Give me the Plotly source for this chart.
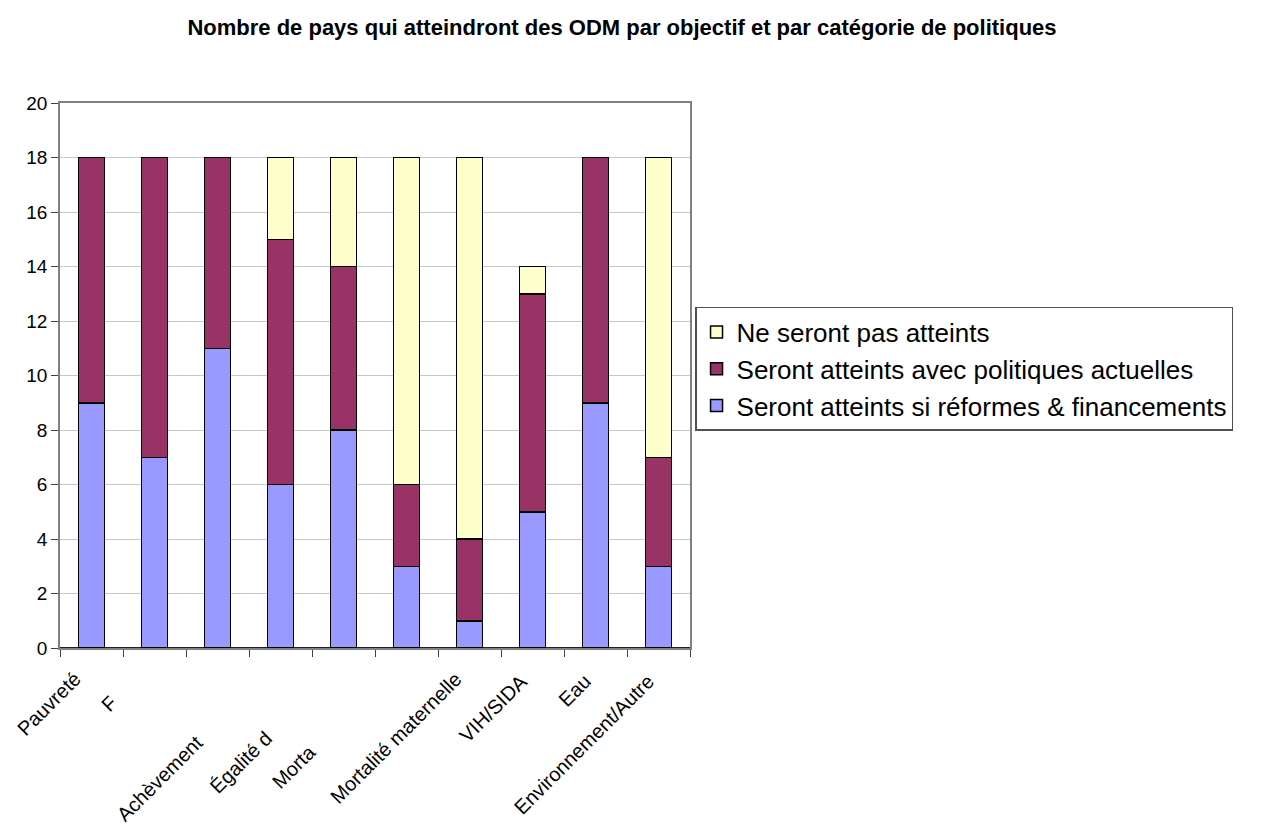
import numpy as np
import plotly.graph_objects as go

# Number of countries per goal, split by policy outcome
reformes = [9, 7, 11, 6, 8, 3, 1, 5, 9, 3]
actuelles = [9, 11, 7, 9, 6, 3, 3, 8, 9, 4]
non_atteints = [0, 0, 0, 3, 4, 12, 14, 1, 0, 11]

# Category labels as they appear under each bar ("" = no label shown)
labels = ["Pauvreté", "F", "Achèvement", "Égalité d", "Morta", "",
          "Mortalité maternelle", "VIH/SIDA", "Eau", "Environnement/Autre"]
# Pixel shifts of each label's top-right corner from its bar centre / axis
label_dx = [-4, -31, -7, -1, -21, 0, -1, 2, 3, 3]
label_dy = [-17, -41, -80, -76, -90, 0, -17, -19, -19, -19]

series = [
    ("Seront atteints si réformes & financements", reformes, "#9999FF", 3),
    ("Seront atteints avec politiques actuelles", actuelles, "#993366", 2),
    ("Ne seront pas atteints", non_atteints, "#FFFFCC", 1),
]

x = np.arange(len(reformes))
FONT = "Liberation Sans, Arial, sans-serif"

fig = go.Figure()
for i, (name, vals, color, rank) in enumerate(series):
    fig.add_trace(go.Bar(
        x=x, y=vals, name=name, width=0.42,
        marker=dict(color=color, line=dict(color="black", width=1.5)),
        legendgroup=f"g{i}", legendrank=rank,
    ))

annotations = []
for i, (txt, dx, dy) in enumerate(zip(labels, label_dx, label_dy)):
    if not txt:
        continue
    annotations.append(dict(
        text=txt, x=i, y=0, xref="x", yref="paper",
        xanchor="right", yanchor="top", textangle=-45,
        xshift=dx, yshift=dy, showarrow=False,
        font=dict(family=FONT, size=20, color="black"),
    ))

fig.update_layout(
    width=1265, height=825,
    barmode="stack",
    paper_bgcolor="white", plot_bgcolor="white",
    margin=dict(l=60, r=575, t=103, b=177),
    title=dict(
        text="<b>Nombre de pays qui atteindront des ODM par objectif et par catégorie de politiques</b>",
        x=0.4917, xanchor="center", xref="container",
        y=0.967, yanchor="middle", yref="container",
        font=dict(family=FONT, size=22, color="black"),
    ),
    xaxis=dict(
        range=[-0.5, len(x) - 0.5],
        tickvals=np.arange(-0.5, len(x) + 0.5, 1.0),
        showticklabels=False, ticks="outside", ticklen=7, tickcolor="#404040",
        showgrid=False, zeroline=False,
        showline=True, linecolor="#808080", linewidth=1.5, mirror=True,
    ),
    yaxis=dict(
        range=[0, 20], dtick=2, ticks="outside", ticklen=7, tickcolor="#404040",
        tickfont=dict(family=FONT, size=19, color="black"),
        showgrid=True, gridcolor="#C8C8C8", gridwidth=1,
        zeroline=True, zerolinecolor="#202020", zerolinewidth=1.5,
        showline=True, linecolor="#808080", linewidth=1.5, mirror=True,
    ),
    legend=dict(
        x=1.008, xanchor="left", y=0.6257, yanchor="top",
        traceorder="normal", tracegroupgap=1,
        bordercolor="#505050", borderwidth=1.5, bgcolor="white",
        font=dict(family=FONT, size=26, color="black"),
    ),
    annotations=annotations,
    bargap=0.58,
)

fig.write_html("out.html")
